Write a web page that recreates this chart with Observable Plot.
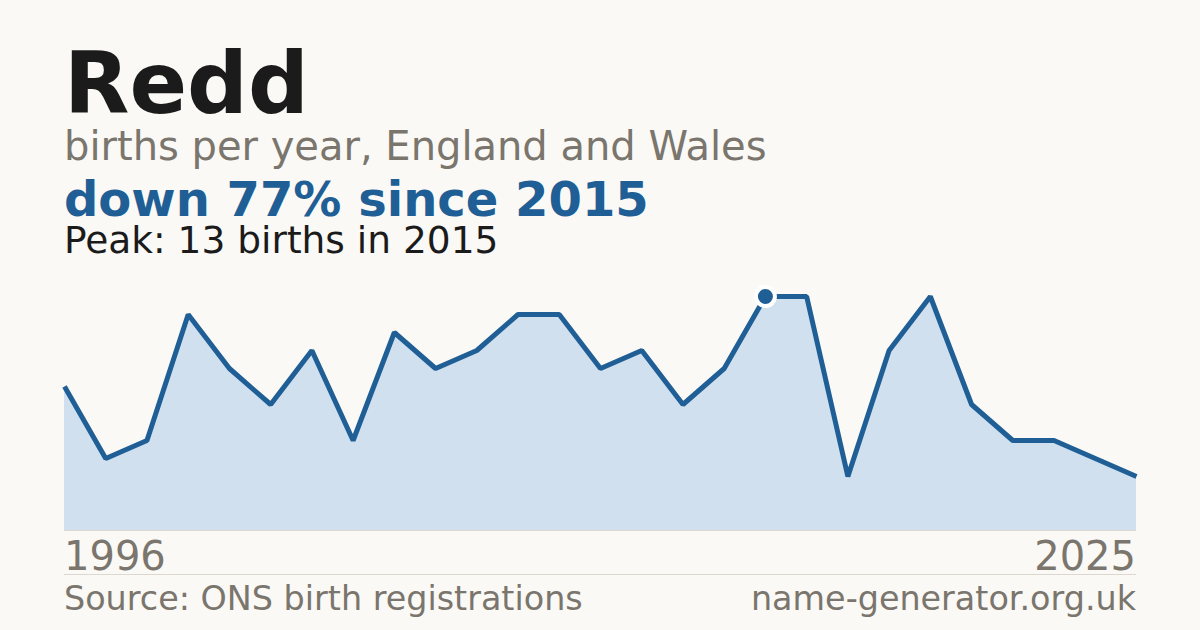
<!DOCTYPE html>
<html>
<head>
<meta charset="utf-8">
<script src="https://cdn.jsdelivr.net/npm/d3@7"></script>
<script src="https://cdn.jsdelivr.net/npm/@observablehq/plot@0.6"></script>
<style>
  html, body { margin: 0; padding: 0; }
  body { width: 1200px; height: 630px; background: #faf9f5; position: relative; overflow: hidden;
         font-family: "DejaVu Sans", sans-serif; }
  .t { position: absolute; left: 64px; white-space: nowrap; }
  #title { top: 45.6px; font-size: 85px; line-height: 0.9; font-weight: bold; color: #1b1b1b; }
  #sub { top: 125.7px; font-size: 40px; line-height: 1; color: #7a756d; }
  #hl { top: 177.5px; font-size: 48px; line-height: 0.88; font-weight: bold; color: #1f5f96; }
  #peak { top: 223.5px; font-size: 37.5px; line-height: 0.9; color: #1b1b1b; }
  #chart { position: absolute; left: 0; top: 280px; }
  .yr { position: absolute; top: 536px; font-size: 40px; line-height: 1; color: #7a756d; }
  #y0 { left: 64px; }
  #y1 { right: 64px; }
  #rule { position: absolute; left: 64px; width: 1072px; top: 574px; height: 1px; background: #dcd8d0; }
  .ft { position: absolute; top: 581.8px; font-size: 33.4px; line-height: 1; color: #7a756d; white-space: nowrap; }
  #src { left: 64px; }
  #site { right: 64px; }
</style>
</head>
<body>
<div class="t" id="title">Redd</div>
<div class="t" id="sub">births per year, England and Wales</div>
<div class="t" id="hl">down 77% since 2015</div>
<div class="t" id="peak">Peak: 13 births in 2015</div>
<div id="chart"></div>
<div class="yr" id="y0"></div>
<div class="yr" id="y1"></div>
<div id="rule"></div>
<div class="ft" id="src">Source: ONS birth registrations</div>
<div class="ft" id="site">name-generator.org.uk</div>
<script>
const years = [1996,1997,1998,2000,2001,2002,2003,2004,2005,2006,2008,2009,2010,2011,2012,2013,2014,2015,2016,2017,2018,2019,2021,2022,2023,2024,2025];
const births = [8,4,5,12,9,7,10,5,11,9,10,12,12,9,10,7,9,13,13,3,10,13,7,5,5,4,3];
const peakYear = 2015;

const data = years.map((y, i) => ({i, year: y, births: births[i]}));
const peak = data.filter(d => d.year === peakYear);

document.getElementById("y0").textContent = years[0];
document.getElementById("y1").textContent = years[years.length - 1];

const chart = Plot.plot({
  width: 1200,
  height: 260,
  marginTop: 16,
  marginBottom: 10,
  marginLeft: 64,
  marginRight: 64,
  x: {domain: [0, years.length - 1], axis: null},
  y: {domain: [0, 13], axis: null},
  style: {background: "transparent"},
  marks: [
    Plot.areaY(data, {x: "i", y: "births", fill: "#d0e0ef"}),
    Plot.ruleY([0], {stroke: "#dcd8d0", strokeWidth: 1}),
    Plot.lineY(data, {x: "i", y: "births", stroke: "#1f5f96", strokeWidth: 5, strokeLinejoin: "miter", strokeLinecap: "butt"}),
    Plot.dot(peak, {x: "i", y: "births", r: 9.5, fill: "#1f5f96", stroke: "#ffffff", strokeWidth: 4})
  ]
});
document.getElementById("chart").appendChild(chart);
</script>
</body>
</html>
